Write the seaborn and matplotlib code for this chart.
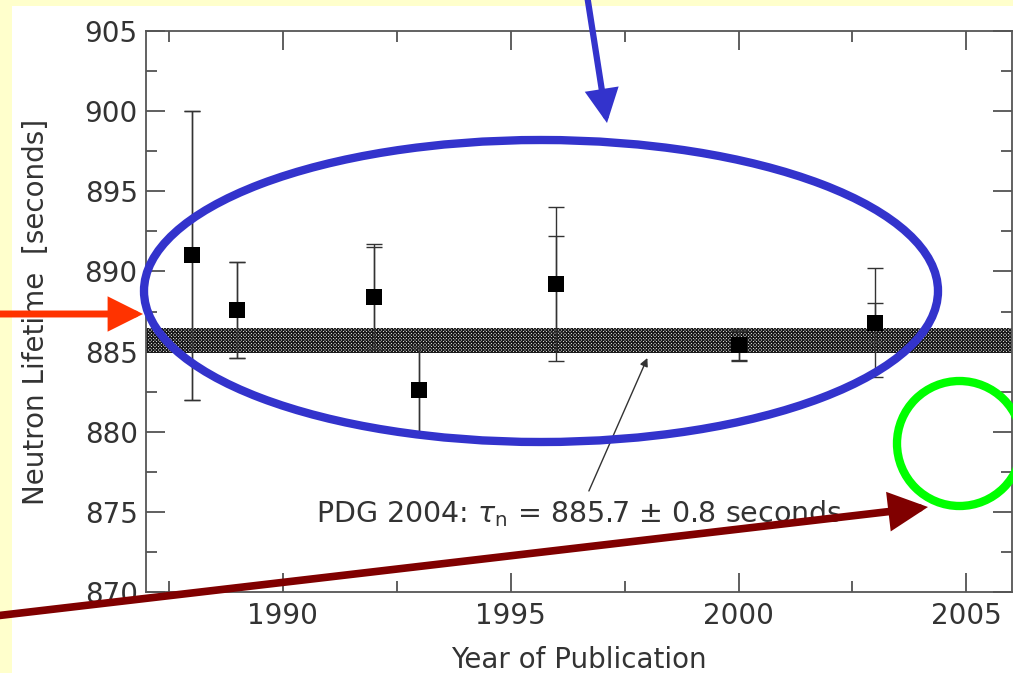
import numpy as np
import pandas as pd
import seaborn as sns
import matplotlib.pyplot as plt
from matplotlib.patches import Ellipse, Rectangle, FancyArrowPatch

years = [1988, 1989, 1992, 1993, 1996, 2000, 2003]
lifetime = [891.0, 887.6, 888.4, 882.6, 889.2, 885.4, 886.8]
stat_err = [9.0, 3.0, 3.1, 2.7, 3.0, 0.9, 1.2]
total_err = [9.0, 3.0, 3.3, 2.7, 4.8, 1.0, 3.4]

pdg_value = 885.7
pdg_err = 0.8

x_ticks = [1990, 1995, 2000, 2005]
y_ticks = [870, 875, 880, 885, 890, 895, 900, 905]


def neutron_plot():
    sns.set_theme(style="ticks")
    plt.rcParams['font.family'] = ['DejaVu Sans']
    plt.rcParams['mathtext.fontset'] = 'dejavusans'
    plt.rcParams['hatch.linewidth'] = 0.9

    data = pd.DataFrame({"year": years, "tau": lifetime,
                         "stat": stat_err, "total": total_err})

    f = plt.figure(figsize=(10.13, 6.73), dpi=100, facecolor='#FFFFCC')
    # white slide panel
    f.add_artist(Rectangle((12 / 1013, 0), 1, 667 / 673, transform=f.transFigure,
                           facecolor='white', edgecolor='none', zorder=-5))

    ax = f.add_axes([146 / 1013, 81 / 673, 866 / 1013, 561 / 673])
    ax.set_facecolor('white')

    # PDG band
    ax.axhspan(pdg_value - pdg_err, pdg_value + pdg_err, facecolor='white',
               edgecolor='#1a1a1a', hatch='xxxxxxxxxx', linewidth=0, zorder=1)

    # error bars (total and statistical)
    ax.errorbar(data["year"], data["tau"], yerr=data["total"], fmt='none',
                ecolor='#333333', elinewidth=1.0, capsize=6, capthick=1.0, zorder=2)
    ax.errorbar(data["year"], data["tau"], yerr=data["stat"], fmt='none',
                ecolor='#333333', elinewidth=1.0, capsize=6, capthick=1.0, zorder=2)

    sns.scatterplot(data=data, x="year", y="tau", marker='s', color='black',
                    s=120, edgecolor='black', linewidth=0, zorder=3, ax=ax)

    ax.set_xlim(1987, 2006)
    ax.set_ylim(870, 905)
    ax.set_xticks(x_ticks)
    ax.set_yticks(y_ticks)
    ax.set_xticks(np.arange(1987.5, 2006, 2.5), minor=True)
    ax.set_yticks(np.arange(872.5, 905, 2.5), minor=True)
    ax.tick_params(which='both', direction='in', top=True, right=True,
                   color='#444444', labelsize=20, labelcolor='#333333')
    ax.tick_params(which='major', length=14, width=1.2)
    ax.tick_params(which='minor', length=8, width=1.2)
    ax.tick_params(axis='y', pad=6)
    ax.tick_params(axis='x', pad=7)
    for s in ax.spines.values():
        s.set_color('#555555')
        s.set_linewidth(1.3)

    ax.set_xlabel("Year of Publication", fontsize=20, color='#333333', labelpad=12)
    ax.set_ylabel("Neutron Lifetime  [seconds]", fontsize=20, color='#333333', labelpad=25)

    ax.annotate(r"PDG 2004: $\tau_\mathregular{n}$ = 885.7 $\pm$ 0.8 seconds",
                xy=(1998.0, 884.6), xytext=(1996.5, 874.9),
                ha='center', va='center', fontsize=20.5, color='#333333',
                arrowprops=dict(arrowstyle='-|>', color='#333333', lw=1.0,
                                shrinkA=3, shrinkB=0, mutation_scale=12))

    # slide overlay drawn in pixel coordinates
    ov = f.add_axes([0, 0, 1, 1], zorder=10)
    ov.set_xlim(0, 1013)
    ov.set_ylim(673, 0)
    ov.axis('off')
    ov.patch.set_alpha(0)

    head = '-|>,head_length=0.6,head_width=0.3'
    ov.add_patch(Ellipse((541, 291), 794, 302, fill=False, edgecolor='#3333CC', lw=6))
    ov.add_patch(Ellipse((959.5, 443.5), 125, 125, fill=False, edgecolor='#00FF00', lw=6))
    ov.add_patch(FancyArrowPatch((587, -5), (607, 123), arrowstyle=head, color='#3333CC',
                                 lw=4.5, mutation_scale=29, shrinkA=0, shrinkB=0,
                                 joinstyle='miter'))
    ov.add_patch(FancyArrowPatch((-5, 314), (143, 314), arrowstyle=head, color='#FF3300',
                                 lw=5, mutation_scale=29, shrinkA=0, shrinkB=0,
                                 joinstyle='miter'))
    ov.add_patch(FancyArrowPatch((-5, 616), (928, 507), arrowstyle=head, color='#800000',
                                 lw=5.5, mutation_scale=33, shrinkA=0, shrinkB=0,
                                 joinstyle='miter'))

    f.savefig("out.png", dpi=100, facecolor=f.get_facecolor())


neutron_plot()
